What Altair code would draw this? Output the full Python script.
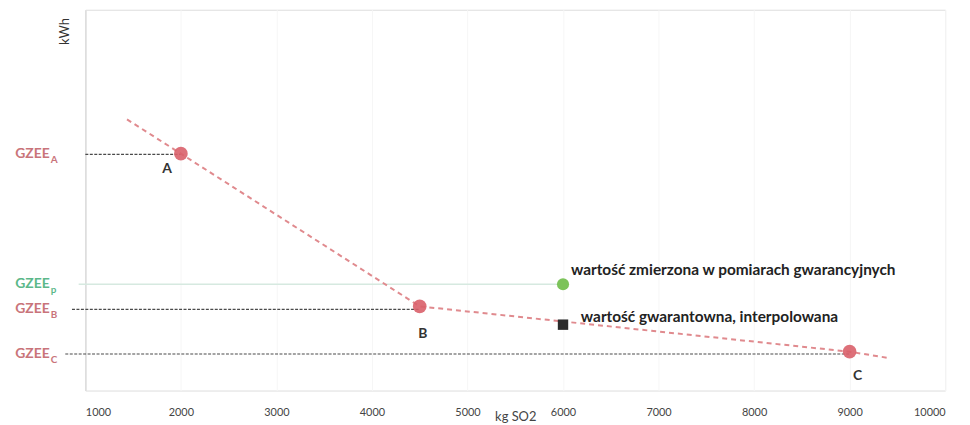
import altair as alt
import pandas as pd

# ---- data ----
x_ticks = [1000, 2000, 3000, 4000, 5000, 6000, 7000, 8000, 9000, 10000]

# guaranteed points A, B, C (kg SO2, kWh in arbitrary units)
pt_names = ["A", "B", "C"]
pt_x = [2000, 4500, 9000]
pt_y = [62.2, 22.1, 10.2]

# dashed characteristic line (extends beyond A and C)
line_x = [1436, 2000, 4500, 9000, 9420]
line_y = [71.2, 62.2, 22.1, 10.2, 8.5]

# measured point and interpolated guaranteed value at 6000
meas_x, meas_y = 6000, 27.9
interp_x, interp_y = 6000, 17.3

# horizontal reference levels
lvl_names = ["A", "p", "B", "C"]
lvl_y = [62.0, 27.9, 21.3, 9.6]
lvl_x1 = [1000, 930, 860, 790]
lvl_x2 = [2000, 6000, 4500, 9000]

label_meas = "wartość zmierzona w pomiarach gwarancyjnych"
label_interp = "wartość gwarantowna, interpolowana"

RED = "#d9606a"
RED_LINE = "#e08a8e"
RED_TXT = "#c9747a"
GREEN = "#7cc35a"
GREEN_TXT = "#5cb88a"
FONT = "Lato"

xs = alt.Scale(domain=[1000, 10000], nice=False, zero=False)
ys = alt.Scale(domain=[0, 100], nice=False, zero=False)

pts = pd.DataFrame({"name": pt_names, "x": pt_x, "y": pt_y})
ln = pd.DataFrame({"x": line_x, "y": line_y, "o": range(len(line_x))})
lv = pd.DataFrame({"name": lvl_names, "y": lvl_y, "x1": lvl_x1, "x2": lvl_x2})
meas = pd.DataFrame({"x": [meas_x], "y": [meas_y], "t": [label_meas]})
interp = pd.DataFrame({"x": [interp_x], "y": [interp_y], "t": [label_interp]})

base_x = alt.X("x:Q", scale=xs,
               axis=alt.Axis(values=x_ticks, title="kg SO2", grid=True, gridColor="#f6f6f6",
                             domain=False, ticks=False, labelPadding=16, labelFontSize=11,
                             labelColor="#444", labelFont=FONT, titleFont=FONT,
                             titleFontSize=13, titleFontWeight="normal", titleColor="#444",
                             titleBaseline="top", titleY=20, format="d"))
base_y = alt.Y("y:Q", scale=ys,
               axis=alt.Axis(values=[], title="kWh", grid=False, domain=True,
                             domainColor="#dcdcdc", domainWidth=1.5, ticks=False, labels=False,
                             titleFont=FONT, titleFontSize=13, titleFontWeight="normal",
                             titleColor="#333", titleX=-14, titleY=8, titleAlign="right",
                             titleAngle=-90))

# axes carrier (invisible)
axes = alt.Chart(pts).mark_point(opacity=0).encode(x=base_x, y=base_y)

# level lines
dark_lv = alt.Chart(lv).transform_filter("datum.name != 'p'").mark_rule(
    color="#4a4a4a", strokeWidth=1.2, strokeDash=[3, 1.5]).encode(
    x=alt.X("x1:Q", scale=xs), x2="x2:Q", y=alt.Y("y:Q", scale=ys))
green_lv = alt.Chart(lv).transform_filter("datum.name == 'p'").mark_rule(
    color="#d6e9e0", strokeWidth=1.5).encode(
    x=alt.X("x1:Q", scale=xs), x2="x2:Q", y=alt.Y("y:Q", scale=ys))

# red dashed characteristic
red_line = alt.Chart(ln).mark_line(color=RED_LINE, strokeWidth=2, strokeDash=[5, 4]).encode(
    x=alt.X("x:Q", scale=xs), y=alt.Y("y:Q", scale=ys), order="o:Q")

# points
red_pts = alt.Chart(pts).mark_circle(color=RED, size=190, opacity=0.9).encode(
    x=alt.X("x:Q", scale=xs), y=alt.Y("y:Q", scale=ys))
green_pt = alt.Chart(meas).mark_circle(color=GREEN, size=150, opacity=1).encode(
    x=alt.X("x:Q", scale=xs), y=alt.Y("y:Q", scale=ys))
black_pt = alt.Chart(interp).mark_square(color="#2b2b2b", size=110, opacity=1).encode(
    x=alt.X("x:Q", scale=xs), y=alt.Y("y:Q", scale=ys))

def pt_label(name, dx, dy):
    return alt.Chart(pts).transform_filter(f"datum.name == '{name}'").mark_text(
        font=FONT, fontSize=14, fontWeight="bold", color="#333", dx=dx, dy=dy).encode(
        x=alt.X("x:Q", scale=xs), y=alt.Y("y:Q", scale=ys), text="name:N")

lab_a = pt_label("A", -14, 15)
lab_b = pt_label("B", 3, 28)
lab_c = pt_label("C", 8, 25)

ann1 = alt.Chart(meas).mark_text(font=FONT, fontSize=15.5, fontWeight="bold", color="#222",
                                 align="left", dx=8, dy=-14).encode(
    x=alt.X("x:Q", scale=xs), y=alt.Y("y:Q", scale=ys), text="t:N")
ann2 = alt.Chart(interp).mark_text(font=FONT, fontSize=15.5, fontWeight="bold", color="#222",
                                   align="left", dx=18, dy=-8).encode(
    x=alt.X("x:Q", scale=xs), y=alt.Y("y:Q", scale=ys), text="t:N")

# y-level labels GZEE with subscript
lv_col = alt.condition("datum.name == 'p'", alt.value(GREEN_TXT), alt.value(RED_TXT))
gz = alt.Chart(lv).transform_calculate(g="'GZEE'").mark_text(
    font=FONT, fontSize=14, fontWeight="bold", align="right", baseline="middle").encode(
    x=alt.value(-36), y=alt.Y("y:Q", scale=ys), text="g:N", color=lv_col)
sub = alt.Chart(lv).mark_text(
    font=FONT, fontSize=10, fontWeight="bold", align="left", baseline="middle", dy=6).encode(
    x=alt.value(-35), y=alt.Y("y:Q", scale=ys), text="name:N", color=lv_col)

chart = alt.layer(axes, green_lv, dark_lv, red_line, red_pts, green_pt, black_pt,
                  lab_a, lab_b, lab_c, ann1, ann2, gz, sub).properties(
    width=867, height=384,
    autosize=alt.AutoSizeParams(type="none"),
    padding={"left": 78, "top": 0, "right": 17, "bottom": 33},
).configure_view(stroke=None).configure(background="white")

chart.save("out.html", embed_options={"renderer": "svg", "actions": False})
